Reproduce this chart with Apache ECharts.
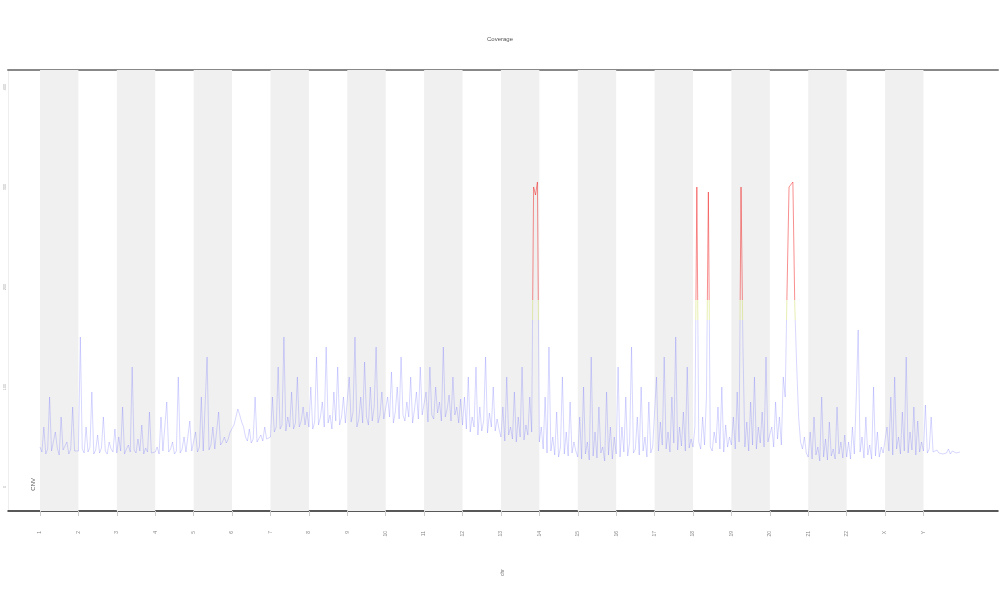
<!DOCTYPE html>
<html>
<head>
<meta charset="utf-8">
<script src="https://cdn.jsdelivr.net/npm/echarts@6/dist/echarts.min.js"></script>
<style>html,body{margin:0;padding:0;background:#fff}#c{width:1000px;height:600px}</style>
</head>
<body>
<div id="c"></div>
<script>
var chromosomes = ['1','2','3','4','5','6','7','8','9','10','11','12','13','14','15','16','17','18','19','20','21','22','X','Y'];
var yTicks = [0, 100, 200, 300, 400];
var chr1  = [40,35,60,33,38,90,36,34,55,39,32,70,37,35,45,33,38,80,36,34];
var chr2  = [36,150,38,34,60,35,40,95,33,37,52,34,39,70,36,33,45,38,35,58];
var chr3  = [34,50,36,80,33,38,42,35,120,37,34,48,36,62,33,39,35,75,34,36];
var chr4  = [35,40,33,70,36,34,85,35,38,45,33,36,110,34,38,50,35,37,66,36];
var chr5  = [37,55,35,40,90,36,38,130,37,42,60,38,40,75,42,45,50,44,48,55];
var chr6  = [55,62,70,78,72,65,60,50,46,58,44,48,90,45,47,52,46,60,48,50];
var chr7  = [50,90,55,60,120,58,62,150,56,70,60,95,58,64,110,60,66,80,62,75];
var chr8  = [60,100,58,65,130,62,70,85,60,140,64,72,58,95,66,120,62,70,90,64];
var chr9  = [62,110,65,75,150,60,68,90,64,125,70,62,100,66,80,140,64,72,95,68];
var chr10 = [66,90,70,115,64,75,100,68,130,72,66,85,70,110,64,78,95,68,120,72];
var chr11 = [70,95,65,120,72,68,100,74,85,66,140,70,78,92,66,110,72,80,64,88];
var chr12 = [62,90,58,110,55,70,60,120,52,80,56,66,130,54,74,60,100,56,68,58];
var chr13 = [50,80,46,110,52,60,48,95,45,70,50,120,47,62,52,90,55,300,292,305];
var chr14 = [45,60,38,90,34,140,36,50,32,75,30,40,110,33,55,31,85,34,45,36];
var chr15 = [30,70,28,100,33,45,27,130,31,55,29,80,34,40,26,95,32,60,28,50];
var chr16 = [33,120,30,60,35,90,31,45,140,34,38,70,32,100,36,50,30,85,34,40];
var chr17 = [40,110,36,65,42,130,38,55,35,90,44,150,37,60,41,75,36,120,39,48];
var chr18 = [40,60,300,45,38,70,42,90,295,40,36,55,44,80,38,100,35,62,40,50];
var chr19 = [42,70,38,95,45,300,140,40,65,36,85,42,110,38,60,44,75,40,130,45];
var chr20 = [45,60,40,85,48,70,42,110,90,200,300,298,305,180,120,70,45,38,50,34];
var chr21 = [30,55,28,70,32,40,26,90,30,48,27,65,31,38,28,80,33,45,29,52];
var chr22 = [30,45,28,60,33,90,157,35,50,29,70,32,42,28,100,31,55,30,40,34];
var chrX  = [34,60,36,90,32,110,38,50,33,75,36,130,34,55,37,80,32,66,35,45];
var chrY  = [36,82,34,38,70,35,33,37,34,36,33,35,34,38,33,36,35,34,33,35];

var perChrom = [chr1,chr2,chr3,chr4,chr5,chr6,chr7,chr8,chr9,chr10,chr11,chr12,chr13,chr14,chr15,chr16,chr17,chr18,chr19,chr20,chr21,chr22,chrX,chrY];

var points = [];
perChrom.forEach(function (arr, ci) {
  arr.forEach(function (v, j) { points.push([ci + j / arr.length, v]); });
});
var bands = [];
chromosomes.forEach(function (c, i) { if (i % 2 === 0) bands.push([{xAxis: i}, {xAxis: i + 1}]); });
var chromStarts = chromosomes.map(function (c, i) { return i; });

var chart = echarts.init(document.getElementById('c'));
chart.setOption({
  animation: false,
  backgroundColor: '#fff',
  title: { text: 'Coverage', left: 'center', top: 31, textStyle: { fontSize: 6, color: '#555', fontWeight: 'normal' } },
  grid: { left: 8, right: 2, top: 70, bottom: 89, containLabel: false, outerBoundsMode: 'none' },
  visualMap: {
    show: false, type: 'piecewise', dimension: 1, seriesIndex: 0,
    pieces: [
      { lt: 167, color: 'rgba(95,95,255,0.42)' },
      { gte: 167, lt: 187, color: 'rgba(200,215,70,0.7)' },
      { gte: 187, color: 'rgba(240,20,20,0.8)' }
    ]
  },
  xAxis: [{
    type: 'value', min: -0.833, max: 24.94,
    name: 'chr', nameLocation: 'middle', nameGap: 58, nameRotate: 90,
    nameTextStyle: { fontSize: 5, color: '#777' },
    splitLine: { show: false },
    axisLine: { onZero: false, lineStyle: { color: '#222', width: 1.5 } },
    axisTick: { customValues: chromStarts, length: 5, lineStyle: { color: '#ccc' } },
    axisLabel: {
      customValues: chromStarts, rotate: 90, margin: 20, fontSize: 5, color: '#888',
      formatter: function (v) { return chromosomes[Math.round(v)]; }
    }
  }, {
    type: 'value', position: 'top', min: -0.833, max: 24.94,
    axisLine: { onZero: false, lineStyle: { color: '#888', width: 2 } },
    axisTick: { show: false }, axisLabel: { show: false }, splitLine: { show: false }
  }],
  yAxis: {
    type: 'value', min: -24, max: 417,
    name: 'depth', nameLocation: 'middle', nameGap: -2, nameRotate: 90,
    nameTextStyle: { fontSize: 4, color: '#aaa' },
    splitLine: { show: false },
    axisLine: { show: true, onZero: false, lineStyle: { color: '#eee', width: 1 } },
    axisTick: { show: false },
    axisLabel: { customValues: yTicks, rotate: 90, fontSize: 4, color: '#aaa', margin: 1 }
  },
  series: [{
    type: 'line',
    data: points,
    showSymbol: false,
    symbol: 'none',
    lineStyle: { width: 0.6 },
    markArea: { silent: true, itemStyle: { color: '#f0f0f0' }, data: bands },
    z: 3
  }],
  graphic: [{
    type: 'text', left: 30, top: 478, rotation: Math.PI / 2,
    style: { text: 'CNV', fontSize: 6, fill: '#555' }
  }]
});
</script>
</body>
</html>
